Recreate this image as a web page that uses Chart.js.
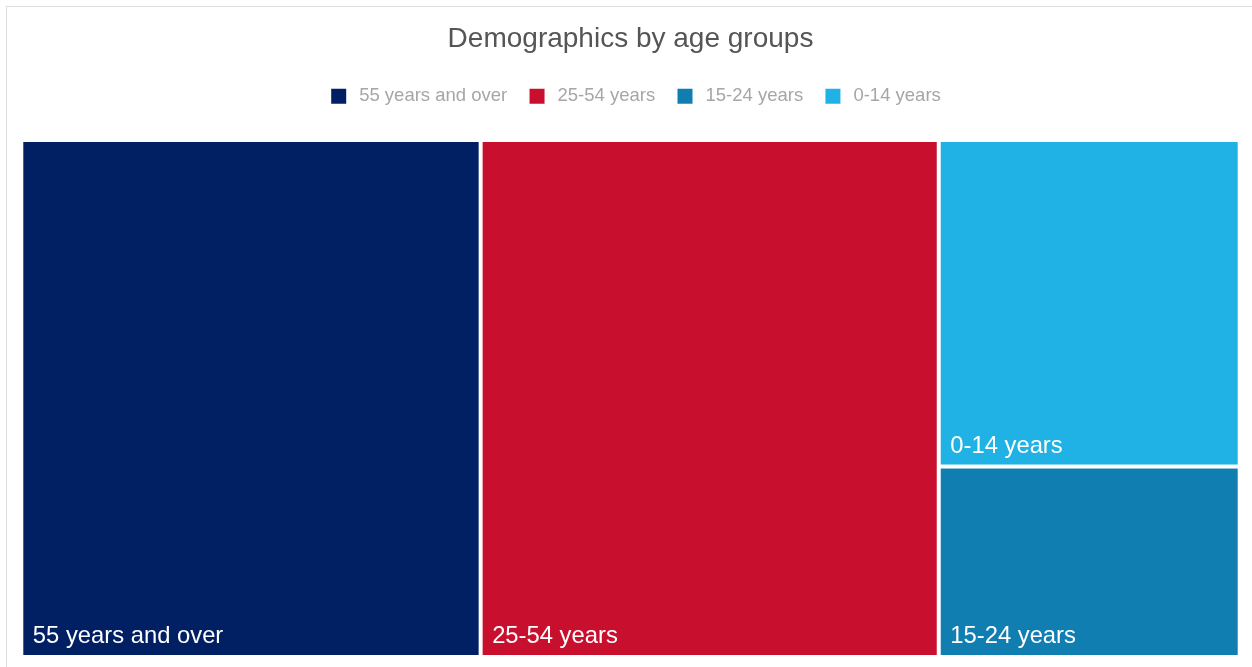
<!DOCTYPE html>
<html>
<head>
<meta charset="utf-8">
<title>Demographics by age groups</title>
<script src="https://cdn.jsdelivr.net/npm/chart.js@4.4.0/dist/chart.umd.min.js"></script>
<style>
  html, body { margin: 0; padding: 0; background: #fff; overflow: hidden; }
  #frame {
    position: absolute; left: 6px; top: 6px; width: 1300px; height: 700px;
    border-top: 1px solid #dcdcdc; border-left: 1px solid #dcdcdc;
  }
  #wrap { position: absolute; left: 0; top: 0; width: 1252px; height: 667px; }
</style>
</head>
<body>
<div id="frame"></div>
<div id="wrap"><canvas id="treemap"></canvas></div>
<script>
// data, in legend order
const groups = ["55 years and over", "25-54 years", "15-24 years", "0-14 years"]
const shares = [37.7, 37.6, 9.1, 15.6]
const colors = ["#002063", "#c8102e", "#107eb1", "#20b2e5"]

const FONT = "'Liberation Sans', Arial, sans-serif"

// worst aspect ratio of a row laid along a side of length s
function worst(row, s) {
  let sum = 0, max = -Infinity, min = Infinity
  row.forEach(r => { sum += r.area; max = Math.max(max, r.area); min = Math.min(min, r.area) })
  return Math.max(s * s * max / (sum * sum), (sum * sum) / (s * s * min))
}

// squarified layout, everything in units of the plot height
function squarify(items, x, y, w, h) {
  const out = []
  let rest = items.slice()
  while (rest.length) {
    const side = Math.min(w, h)
    const row = [rest[0]]
    let i = 1
    while (i < rest.length && worst(row.concat(rest[i]), side) <= worst(row, side)) {
      row.push(rest[i]); i++
    }
    rest = rest.slice(i)
    const sum = row.reduce((s, r) => s + r.area, 0)
    if (w >= h) {
      const cw = sum / h
      let cy = y
      row.forEach(r => { const rh = r.area / cw; out.push(Object.assign({}, r, {x: x, y: cy, w: cw, h: rh})); cy += rh })
      x += cw; w -= cw
    } else {
      const rh = sum / w
      let cx = x
      row.forEach(r => { const rw = r.area / rh; out.push(Object.assign({}, r, {x: cx, y: y, w: rw, h: rh})); cx += rw })
      y += rh; h -= rh
    }
  }
  return out
}

const treemapPlugin = {
  id: "treemap",
  afterLayout(chart) {
    // legend row sits a little right of centre in the original
    if (chart.legend) { chart.legend.left += 5.5; chart.legend.right += 5.5 }
  },
  afterDatasetsDraw(chart) {
    const {ctx} = chart
    const xs = chart.scales.x, ys = chart.scales.y
    const ratio = chart.chartArea.width / chart.chartArea.height

    const visible = groups.map((g, i) => ({label: g, value: shares[i], color: colors[i], idx: i}))
      .filter(it => chart.isDatasetVisible(it.idx))
    const total = visible.reduce((s, it) => s + it.value, 0)
    visible.forEach(it => it.area = it.value / total * ratio)
    visible.sort((a, b) => b.value - a.value)

    const rects = squarify(visible, 0, 0, ratio, 1)
    const gap = 2
    ctx.save()
    rects.forEach(r => {
      const left = xs.getPixelForValue(r.x / ratio) + gap
      const right = xs.getPixelForValue((r.x + r.w) / ratio) - gap
      const top = ys.getPixelForValue(r.y) + gap
      const bottom = ys.getPixelForValue(r.y + r.h) - gap
      ctx.fillStyle = r.color
      ctx.fillRect(left, top, right - left, bottom - top)

      ctx.fillStyle = "#ffffff"
      ctx.font = "23.8px " + FONT
      ctx.textAlign = "left"
      ctx.textBaseline = "alphabetic"
      ctx.fillText(r.label, left + 9.5, bottom - 12)
    })
    ctx.restore()
  }
}

new Chart(document.getElementById("treemap"), {
  type: "scatter",
  data: {
    datasets: groups.map((g, i) => ({
      label: g,
      data: [],
      backgroundColor: colors[i],
      borderColor: colors[i],
      borderWidth: 0
    }))
  },
  options: {
    responsive: true,
    maintainAspectRatio: false,
    animation: false,
    layout: {
      padding: {top: 0, left: 21.3, right: 12.3, bottom: 10}
    },
    scales: {
      x: {
        type: "linear", position: "top", min: 0, max: 1,
        grid: {display: false}, border: {display: false},
        ticks: {display: false},
        afterFit: (scale) => { scale.height = 24.6 }
      },
      y: {
        type: "linear", min: 0, max: 1, reverse: true, display: false
      }
    },
    plugins: {
      title: {
        display: true,
        text: "Demographics by age groups",
        color: "#555555",
        font: {family: FONT, size: 28, weight: "normal"},
        padding: {top: 22, bottom: 9}
      },
      legend: {
        display: true,
        position: "top",
        labels: {
          boxWidth: 15,
          boxHeight: 15,
          padding: 22.3,
          color: "#a6a6a6",
          font: {family: FONT, size: 18.5},
          generateLabels(chart) {
            return chart.data.datasets.map((ds, i) => ({
              text: "\u2009" + ds.label,
              fillStyle: ds.backgroundColor,
              strokeStyle: ds.backgroundColor,
              lineWidth: 0,
              hidden: !chart.isDatasetVisible(i),
              datasetIndex: i,
              fontColor: "#a6a6a6"
            }))
          }
        }
      },
      tooltip: {enabled: false}
    }
  },
  plugins: [treemapPlugin]
})
</script>
</body>
</html>
